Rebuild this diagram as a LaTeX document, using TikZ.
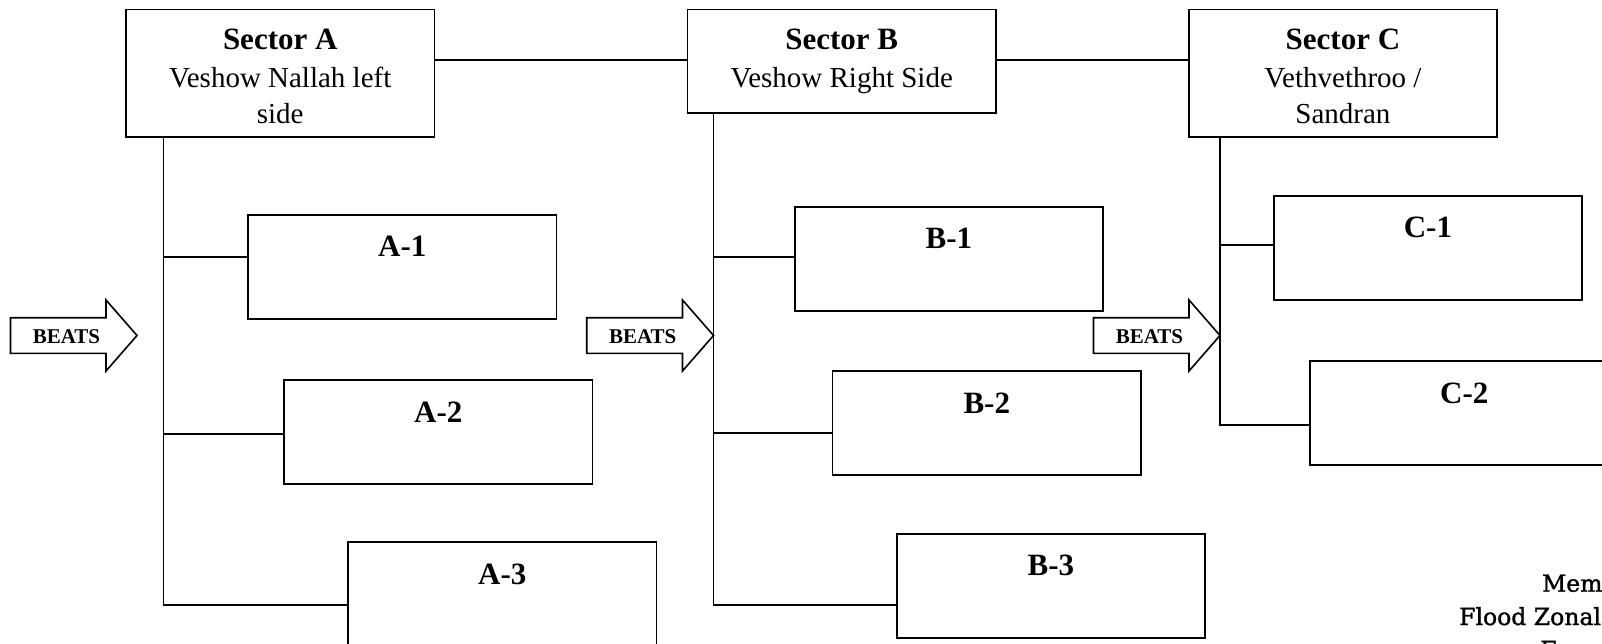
\documentclass[tikz,border=0pt]{standalone}
\usepackage{fontspec}
\setmainfont{Liberation Serif}
\newfontfamily\memofont[FakeBold=1.3]{DejaVu Serif}
\begin{document}
\begin{tikzpicture}[x=1pt,y=-1pt,
  box/.style={draw, line width=1.8pt, outer sep=0pt, inner sep=0pt, minimum width=308.5pt, minimum height=104pt, anchor=north west},
  hdbox/.style={box, minimum height=127.5pt},
  conn/.style={line width=1.8pt},
  hdtxt/.style={font=\fontsize{29}{35}\selectfont, anchor=base, inner sep=0pt},
  hdbold/.style={font=\fontsize{31}{36}\selectfont\bfseries, anchor=base, inner sep=0pt},
  lbl/.style={font=\fontsize{31}{36}\selectfont\bfseries, anchor=base, inner sep=0pt},
  beats/.style={font=\fontsize{21}{25}\selectfont\bfseries, anchor=base, inner sep=0pt},
  arrowline/.style={draw, line width=1.6pt, line join=miter},
  memo/.style={font=\memofont\fontsize{23.5}{33}\selectfont, anchor=base west, inner sep=0pt}
]
\useasboundingbox (0,0) rectangle (1602,644);
\fill[white] (0,0) rectangle (1602,644);
\clip (0,0) rectangle (1602,644);

% sector boxes
\node[hdbox] (sa) at (126,9.5) {};
\node[box, minimum height=103.2pt] (sb) at (687.5,9.5) {};
\node[hdbox] (sc) at (1188.7,9.5) {};

\node[hdbold] (saT) at ([yshift=-40.5pt]sa.north) {Sector A};
\node[hdtxt] (saL1) at ([yshift=-77.8pt]sa.north) {Veshow Nallah left};
\node[hdtxt] (saL2) at ([yshift=-113.8pt]sa.north) {side};
\node[hdbold] (sbT) at ([yshift=-40.5pt]sb.north) {Sector B};
\node[hdtxt] (sbL1) at ([yshift=-77.8pt]sb.north) {Veshow Right Side};
\node[hdbold] (scT) at ([yshift=-40.5pt]sc.north) {Sector C};
\node[hdtxt] (scL1) at ([yshift=-77.8pt]sc.north) {Vethvethroo /};
\node[hdtxt] (scL2) at ([yshift=-113.8pt]sc.north) {Sandran};

% beat boxes
\node[box] (a1) at (248,215) {};
\node[box] (a2) at (284,380) {};
\node[box] (a3) at (348,542.3) {};
\node[box] (b1) at (794.6,206.7) {};
\node[box] (b2) at (832.5,371.3) {};
\node[box] (b3) at (896.6,533.7) {};
\node[box] (c1) at (1273.7,196) {};
\node[box] (c2) at (1310,361) {};

\foreach \b/\t in {a1/A-1, a2/A-2, a3/A-3, b1/B-1, b2/B-2, b3/B-3, c1/C-1, c2/C-2}
  \node[lbl] (\b T) at ([yshift=-42pt]\b.north) {\t};

% top connectors
\draw[conn] (sa.east |- 0,60) -- (sb.west |- 0,60);
\draw[conn] (sb.east |- 0,60) -- (sc.west |- 0,60);

% trunks
\coordinate (ta) at ([xshift=37.4pt]sa.south west);
\coordinate (tb) at ([xshift=26pt]sb.south west);
\coordinate (tc) at ([xshift=31.3pt]sc.south west);

\draw[conn] (ta) -- (ta |- 0,605) -- (a3.west |- 0,605);
\draw[conn] (ta |- 0,257) -- (a1.west |- 0,257);
\draw[conn] (ta |- 0,434) -- (a2.west |- 0,434);

\draw[conn] (tb) -- (tb |- 0,605) -- (b3.west |- 0,605);
\draw[conn] (tb |- 0,257) -- (b1.west |- 0,257);
\draw[conn] (tb |- 0,433.3) -- (b2.west |- 0,433.3);

\draw[conn] (tc) -- (tc |- 0,425) -- (c2.west |- 0,425);
\draw[conn] (tc |- 0,245) -- (c1.west |- 0,245);

% BEATS arrows
\foreach \l/\t/\n in {10.5/137/A, 586.7/713.5/B, 1093.5/1220/C} {
  \draw[arrowline] (\l,317.7) -- (\t-31,317.7) -- (\t-31,300) -- (\t,335.5)
     -- (\t-31,371) -- (\t-31,353.3) -- (\l,353.3) -- cycle;
  \node[beats] (beats\n) at (\l+56,343.3) {BEATS};
}

% cut-off memo text
\node[memo] (m1) at (1542,591.7) {Mem};
\node[memo] (m2) at (1459,625) {Flood Zonal};
\node[memo] (m3) at (1540,658) {F};
\end{tikzpicture}
\end{document}
